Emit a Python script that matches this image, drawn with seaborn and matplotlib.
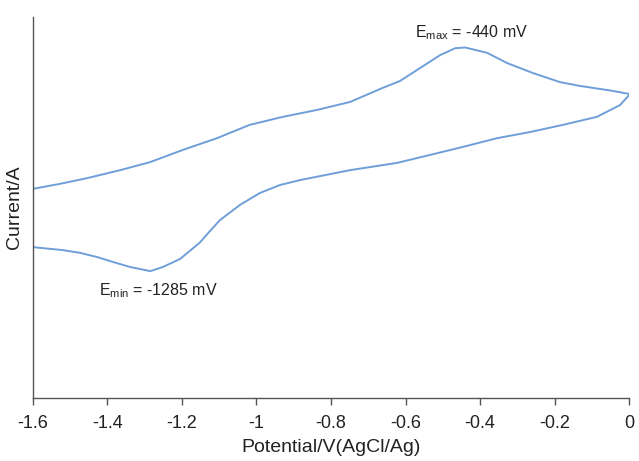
import numpy as np
import pandas as pd
import seaborn as sns
import matplotlib.pyplot as plt

# Forward (anodic) sweep, -1.6 V -> 0 V
fwd_potential = [-1.600, -1.528, -1.455, -1.366, -1.286, -1.198, -1.106, -1.018,
                 -0.929, -0.838, -0.749, -0.661, -0.615, -0.561, -0.507, -0.467,
                 -0.440, -0.381, -0.327, -0.258, -0.185, -0.131, -0.043, 0.000]
fwd_current = [5.49, 5.62, 5.77, 5.98, 6.19, 6.51, 6.82, 7.17,
               7.38, 7.56, 7.77, 8.14, 8.32, 8.66, 9.00, 9.18,
               9.20, 9.06, 8.79, 8.53, 8.29, 8.19, 8.06, 7.98]

# Reverse (cathodic) sweep, 0 V -> -1.6 V
rev_potential = [0.000, -0.024, -0.086, -0.177, -0.266, -0.354, -0.446, -0.534,
                 -0.623, -0.749, -0.883, -0.937, -0.991, -1.044, -1.098, -1.125,
                 -1.152, -1.205, -1.251, -1.285, -1.340, -1.385, -1.428, -1.474,
                 -1.519, -1.600]
rev_current = [7.95, 7.69, 7.38, 7.17, 6.98, 6.82, 6.59, 6.38,
               6.17, 5.98, 5.72, 5.59, 5.38, 5.07, 4.67, 4.38,
               4.08, 3.65, 3.44, 3.33, 3.44, 3.57, 3.70, 3.81,
               3.88, 3.96]

x_ticks = [-1.6, -1.4, -1.2, -1, -0.8, -0.6, -0.4, -0.2, 0]
x_tick_labels = ['-1.6', '-1.4', '-1.2', '-1', '-0.8', '-0.6', '-0.4', '-0.2', '0']

sns.set_theme(style='ticks')
plt.rcParams['font.family'] = ['Liberation Sans', 'DejaVu Sans']
plt.rcParams['mathtext.fontset'] = 'custom'
plt.rcParams['mathtext.rm'] = 'Liberation Sans'

df = pd.DataFrame({
    'potential': fwd_potential + rev_potential,
    'current': fwd_current + rev_current,
    'sweep': ['forward'] * len(fwd_potential) + ['reverse'] * len(rev_potential),
})

fig = plt.figure(figsize=(6.39, 4.61), dpi=100)
ax = fig.add_axes([0.0516, 0.1367, 0.9328, 0.8264])

# units + estimator=None keeps each sweep as its own raw line (no averaging)
sns.lineplot(data=df, x='potential', y='current', units='sweep',
             estimator=None, sort=False,
             color='#6f9fd8', linewidth=1.4, ax=ax)

ax.set_xlim(-1.6, 0)
ax.set_ylim(0, 10)
ax.set_xticks(x_ticks)
ax.set_xticklabels(x_tick_labels, fontsize=13, color='#222222')
ax.set_yticks([])
ax.set_xlabel('Potential/V(AgCl/Ag)', fontsize=14, color='#222222', labelpad=5)
ax.set_ylabel('Current/A', fontsize=14, color='#222222', labelpad=7)

for side in ['top', 'right']:
    ax.spines[side].set_visible(False)
for side in ['left', 'bottom']:
    ax.spines[side].set_color('#555555')
    ax.spines[side].set_linewidth(1.0)
ax.tick_params(axis='x', direction='out', length=5, width=1, color='#555555', pad=7)

ax.text(-0.424, 9.58, r'E$_{\mathrm{max}}$ = -440 mV', ha='center', va='center',
        fontsize=11.5, color='#222222')
ax.text(-1.262, 2.83, r'E$_{\mathrm{min}}$ = -1285 mV', ha='center', va='center',
        fontsize=11.5, color='#222222')

fig.savefig('out.png', dpi=100)
